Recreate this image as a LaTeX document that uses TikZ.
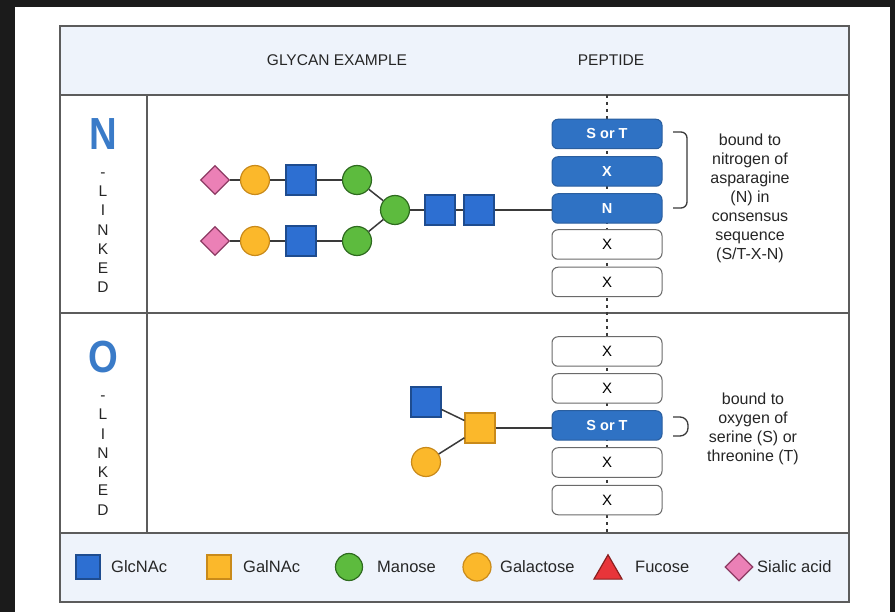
\documentclass[tikz,border=0pt]{standalone}
\usepackage{fontspec}
\usepackage{graphicx}
\setmainfont{Liberation Sans}
\usetikzlibrary{shapes.geometric,calc}
\definecolor{bgdark}{HTML}{1B1B1B}
\definecolor{headF}{HTML}{EEF3FB}
\definecolor{frameC}{HTML}{5C5C5C}
\definecolor{linec}{HTML}{3A3A3A}
\definecolor{glcF}{HTML}{2D6FD2}
\definecolor{glcD}{HTML}{1E4C8F}
\definecolor{yelF}{HTML}{FBB82B}
\definecolor{yelD}{HTML}{C98A1A}
\definecolor{grnF}{HTML}{5DBB3E}
\definecolor{grnD}{HTML}{2E6B1F}
\definecolor{pnkF}{HTML}{EB80B6}
\definecolor{pnkD}{HTML}{8C3A63}
\definecolor{redF}{HTML}{E8353A}
\definecolor{redD}{HTML}{8A1F1F}
\definecolor{pepF}{HTML}{2F72C4}
\definecolor{pepD}{HTML}{2A5E9E}
\definecolor{pepG}{HTML}{6A6A6A}
\definecolor{letB}{HTML}{3A7BC8}
\tikzset{
  link/.style={draw=linec, line width=1.5pt},
  sqbase/.style={rectangle, minimum size=30pt, inner sep=0pt, line width=1.2pt},
  glc/.style={sqbase, fill=glcF, draw=glcD},
  galn/.style={sqbase, fill=yelF, draw=yelD},
  mancirc/.style={circle, minimum size=29pt, inner sep=0pt, line width=1.2pt, fill=grnF, draw=grnD},
  galcirc/.style={circle, minimum size=29pt, inner sep=0pt, line width=1.2pt, fill=yelF, draw=yelD},
  sia/.style={diamond, minimum width=29pt, minimum height=29pt, inner sep=0pt, line width=1.2pt, fill=pnkF, draw=pnkD},
  pepB/.style={rectangle, rounded corners=6pt, minimum width=110pt, minimum height=29.5pt, inner sep=0pt, fill=pepF, draw=pepD, line width=1pt, text=white, font=\fontsize{14.5}{16}\selectfont\bfseries},
  pepW/.style={rectangle, rounded corners=6pt, minimum width=110pt, minimum height=29.5pt, inner sep=0pt, fill=white, draw=pepG, line width=1pt, font=\fontsize{15}{17}\selectfont},
  frame/.style={draw=frameC, line width=1.5pt},
  headtxt/.style={font=\fontsize{15.5}{18}\selectfont, text=black!85},
  desc/.style={align=center, font=\fontsize{16}{19}\selectfont, text=black!85},
  bigletter/.style={font=\fontsize{45}{45}\selectfont\bfseries, text=letB},
  vletter/.style={anchor=base, font=\fontsize{15.5}{18}\selectfont, text=black!85, inner sep=0pt},
  legtxt/.style={anchor=west, font=\fontsize{16.5}{19}\selectfont, text=black!85, inner sep=0pt},
  brk/.style={draw=linec, line width=1.3pt}
}
\begin{document}
\begin{tikzpicture}[x=1pt,y=-1pt]
\useasboundingbox (0,0) rectangle (895,612);
\fill[bgdark] (0,0) rectangle (895,612);
\fill[white] (15,7) rectangle (890,612);
% header and legend fills
\fill[headF] (60,26) rectangle (849,95);
\fill[headF] (60,533) rectangle (849,602);
% table lines
\draw[frame] (60,26) rectangle (849,602);
\draw[draw=frameC, line width=2pt] (60,95) -- (849,95);
\draw[frame] (60,313) -- (849,313);
\draw[frame] (60,533) -- (849,533);
\draw[frame] (147,95) -- (147,533);
% dotted peptide axis
\draw[linec, line width=1.4pt, dash pattern=on 3pt off 4pt] (607,95) -- (607,533);

% header
\node[headtxt] (hglycan) at (337,60) {GLYCAN EXAMPLE};
\node[headtxt] (hpep) at (611,60) {PEPTIDE};

% left column letters
\node[bigletter] (bigN) at (103.5,134) {\scalebox{0.85}[1]{N}};
\node[bigletter] (bigO) at (103.5,357.5) {\scalebox{0.85}[1]{O}};
\foreach \c [count=\i] in {-,L,I,N,K,E,D}
  \node[vletter] (nl\i) at (103, 177.5+19.2*\i-19.2) {\c};
\foreach \c [count=\i] in {-,L,I,N,K,E,D}
  \node[vletter] (ol\i) at (103, 401+19*\i-19) {\c};

% N-linked peptide
\node[pepB] (n1) at (607,134) {S or T};
\node[pepB] (n2) at (607,171.5) {X};
\node[pepB] (n3) at (607,208.5) {N};
\node[pepW] (n4) at (607,244.5) {X};
\node[pepW] (n5) at (607,282) {X};

% N-linked glycan
\node[sia] (sia1) at (215,180) {};
\node[galcirc] (gal1) at (255,180) {};
\node[glc] (glc1) at (301,180) {};
\node[mancirc] (man1) at (357,180) {};
\node[sia] (sia2) at (215,241) {};
\node[galcirc] (gal2) at (255,241) {};
\node[glc] (glc2) at (301,241) {};
\node[mancirc] (man2) at (357,241) {};
\node[mancirc] (manc) at (395,210) {};
\node[glc] (glc3) at (440,210) {};
\node[glc] (glc4) at (479,210) {};
\draw[link] (sia1) -- (gal1);
\draw[link] (gal1) -- (glc1);
\draw[link] (glc1) -- (man1);
\draw[link] (sia2) -- (gal2);
\draw[link] (gal2) -- (glc2);
\draw[link] (glc2) -- (man2);
\draw[link] (man1) -- (manc);
\draw[link] (man2) -- (manc);
\draw[link] (manc) -- (glc3);
\draw[link] (glc3) -- (glc4);
\draw[link] (glc4.east) -- (glc4.east -| n3.west);

% N bracket and text
\draw[brk, rounded corners=6pt] (673,132) -| (687,208) -- (673,208);
\node[desc] (ndesc) at (750,198) {bound to\\nitrogen of\\asparagine\\(N) in\\consensus\\sequence\\(S/T-X-N)};

% O-linked peptide
\node[pepW] (o1) at (607,351.5) {X};
\node[pepW] (o2) at (607,388.5) {X};
\node[pepB] (o3) at (607,425.5) {S or T};
\node[pepW] (o4) at (607,462.5) {X};
\node[pepW] (o5) at (607,500) {X};

% O-linked glycan
\node[glc] (oglc) at (426,402) {};
\node[galn] (ogaln) at (480,428) {};
\node[galcirc] (ogal) at (426,462) {};
\draw[link] (oglc) -- (ogaln);
\draw[link] (ogal) -- (ogaln);
\draw[link] (ogaln.east) -- (ogaln.east -| o3.west);

% O bracket and text
\draw[brk, rounded corners=8pt] (673,417) -| (688,436) -- (673,436);
\node[desc] (odesc) at (753,428.5) {bound to\\oxygen of\\serine (S) or\\threonine (T)};

% legend
\node[glc, minimum size=24pt] (lglc) at (88,567) {};
\node[legtxt] (tglc) at (111,567) {GlcNAc};
\node[galn, minimum size=24pt] (lgaln) at (219,567) {};
\node[legtxt] (tgaln) at (243,567) {GalNAc};
\node[mancirc, minimum size=27pt] (lman) at (349,567) {};
\node[legtxt] (tman) at (377,567) {Manose};
\node[galcirc, minimum size=28pt] (lgal) at (477,567) {};
\node[legtxt] (tgal) at (500,567) {Galactose};
\node[regular polygon, regular polygon sides=3, minimum size=32.4pt, inner sep=0pt, fill=redF, draw=redD, line width=1.2pt] (lfuc) at (608,571) {};
\node[legtxt] (tfuc) at (635,567) {Fucose};
\node[sia, minimum width=28pt, minimum height=28pt] (lsia) at (739,567) {};
\node[legtxt] (tsia) at (757,567) {Sialic acid};
\end{tikzpicture}
\end{document}
